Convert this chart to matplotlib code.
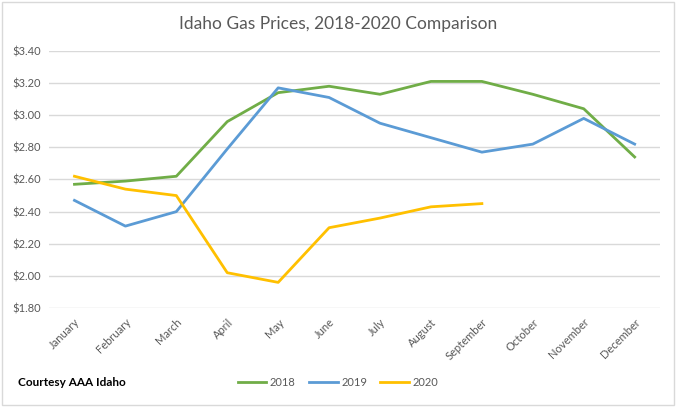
import matplotlib
matplotlib.use("Agg")
import matplotlib.pyplot as plt
from matplotlib.patches import Rectangle

months = ["January", "February", "March", "April", "May", "June", "July",
          "August", "September", "October", "November", "December"]
prices_2018 = [2.57, 2.59, 2.62, 2.96, 3.14, 3.18, 3.13, 3.21, 3.21, 3.13, 3.04, 2.74]
prices_2019 = [2.47, 2.31, 2.40, 2.79, 3.17, 3.11, 2.95, 2.86, 2.77, 2.82, 2.98, 2.82]
prices_2020 = [2.62, 2.54, 2.50, 2.02, 1.96, 2.30, 2.36, 2.43, 2.45]
yticks = [1.80, 2.00, 2.20, 2.40, 2.60, 2.80, 3.00, 3.20, 3.40]

plt.rcParams['font.family'] = ['Lato', 'DejaVu Sans']

fig = plt.figure(figsize=(6.76, 4.07), dpi=100)
fig.patches.append(Rectangle((0.003, 0.005), 0.994, 0.99, transform=fig.transFigure,
                             fill=False, edgecolor='#D9D9D9', linewidth=1))
ax = fig.add_axes([0.0725, 0.243, 0.904, 0.632])

x = list(range(len(months)))
l1, = ax.plot(x, prices_2018, color='#70AD47', lw=2.0, label='2018')
l2, = ax.plot(x, prices_2019, color='#5B9BD5', lw=2.0, label='2019')
l3, = ax.plot(x[:len(prices_2020)], prices_2020, color='#FFC000', lw=2.0, label='2020')

ax.set_xlim(-0.5, 11.5)
ax.set_ylim(1.80, 3.40)
ax.set_yticks(yticks)
ax.set_yticklabels([f"${v:.2f}" for v in yticks], fontsize=8, color='#595959')
ax.set_xticks(x)
ax.set_xticklabels(months, rotation=45, ha='right', rotation_mode='anchor',
                   fontsize=8, color='#595959')
ax.tick_params(axis='both', length=0, pad=6)
ax.grid(axis='y', color='#D9D9D9', lw=1)
ax.set_axisbelow(True)
for s in ax.spines.values():
    s.set_visible(False)

fig.text(0.5, 0.94, "Idaho Gas Prices, 2018-2020 Comparison", ha='center', va='center',
         fontsize=12.5, color='#595959')
fig.text(0.027, 0.06, "Courtesy AAA Idaho", ha='left', va='center', fontsize=8.5,
         fontweight='bold', color='black')
fig.legend(handles=[l1, l2, l3], loc='center', bbox_to_anchor=(0.5, 0.06), ncol=3,
           frameon=False, fontsize=8, handlelength=2.6, handletextpad=0.3,
           columnspacing=1.2, labelcolor='#595959')

fig.savefig("out.png", dpi=100)
